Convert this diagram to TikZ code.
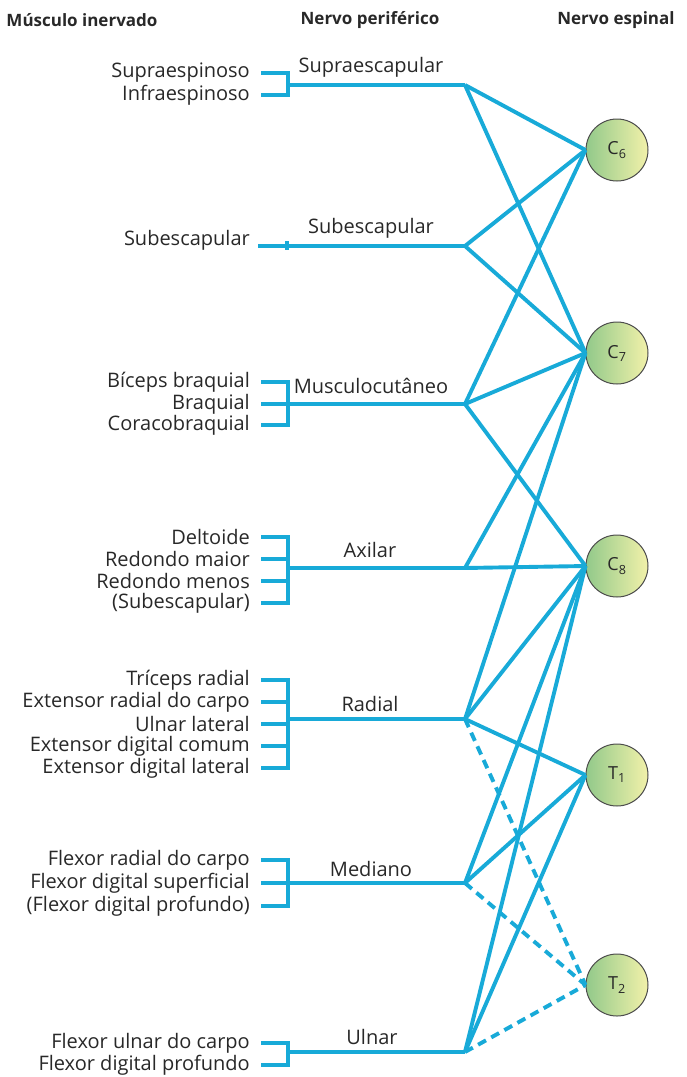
\documentclass[tikz,border=0pt]{standalone}
\usepackage{fontspec}
\setmainfont{Open Sans}
\usetikzlibrary{positioning}
\definecolor{nervecol}{RGB}{24,170,216}
\definecolor{rootleft}{RGB}{146,201,138}
\definecolor{rootright}{RGB}{242,241,170}
\definecolor{inkcol}{RGB}{40,40,40}

\begin{document}
\begin{tikzpicture}[x=1pt,y=-1pt,
    nerve/.style={draw=nervecol,line width=3.9pt},
    weak/.style={nerve,dash pattern=on 9pt off 6pt},
    brace/.style={nerve,line cap=rect},
    root/.style={circle,draw=black!70,line width=1pt,minimum size=62pt,inner sep=0pt,
      left color=rootleft,right color=rootright,text=inkcol,font=\fontsize{18}{20}\selectfont},
    musc/.style={anchor=east,inner sep=0pt,text=inkcol,font=\fontsize{20}{22}\selectfont},
    nname/.style={inner sep=0pt,text=inkcol,font=\fontsize{20}{22}\selectfont},
    head/.style={inner sep=0pt,text=inkcol,font=\fontsize{17}{20}\selectfont\bfseries}]
  \useasboundingbox (0,0) rectangle (686,1077);

  % column heads
  \node[head] (h1) at (82,20)  {Músculo inervado};
  \node[head] (h2) at (370,20) {Nervo periférico};
  \node[head] (h3) at (616,20) {Nervo espinal};

  % spinal roots
  \node[root] (c6) at (617,150) {C\textsubscript{6}};
  \node[root] (c7) at (617,353) {C\textsubscript{7}};
  \node[root] (c8) at (617,566) {C\textsubscript{8}};
  \node[root] (t1) at (617,775) {T\textsubscript{1}};
  \node[root] (t2) at (617,985) {T\textsubscript{2}};

  % peripheral nerve junctions and brace stems
  \coordinate (sup) at (465,85);   \coordinate (bsup) at (288,85);
  \coordinate (sub) at (465,246);  \coordinate (bsub) at (258,246);
  \coordinate (mus) at (465,404);  \coordinate (bmus) at (288,404);
  \coordinate (axi) at (465,568);  \coordinate (baxi) at (288,568);
  \coordinate (rad) at (465,719);  \coordinate (brad) at (288,719);
  \coordinate (med) at (465,883);  \coordinate (bmed) at (288,883);
  \coordinate (uln) at (465,1052); \coordinate (buln) at (288,1052);

  \node[nname] (nsup) at (371,67)   {Supraescapular};
  \node[nname] (nsub) at (371,228)  {Subescapular};
  \node[nname] (nmus) at (371,386)  {Musculocutâneo};
  \node[nname] (naxi) at (370,550)  {Axilar};
  \node[nname] (nrad) at (370,704)  {Radial};
  \node[nname] (nmed) at (371,869)  {Mediano};
  \node[nname] (nuln) at (372,1037) {Ulnar};

  % muscles
  \node[musc] (m1)  at (250,73)   {Supraespinoso};
  \node[musc] (m2)  at (250,95)   {Infraespinoso};
  \node[musc] (m3)  at (250,240)  {Subescapular};
  \node[musc] (m4)  at (250,382)  {Bíceps braquial};
  \node[musc] (m5)  at (250,404)  {Braquial};
  \node[musc] (m6)  at (250,425)  {Coracobraquial};
  \node[musc] (m7)  at (250,537)  {Deltoide};
  \node[musc] (m8)  at (250,559)  {Redondo maior};
  \node[musc] (m9)  at (250,581)  {Redondo menos};
  \node[musc] (m10) at (250,603)  {(Subescapular)};
  \node[musc] (m11) at (250,680)  {Tríceps radial};
  \node[musc] (m12) at (250,702)  {Extensor radial do carpo};
  \node[musc] (m13) at (250,724)  {Ulnar lateral};
  \node[musc] (m14) at (250,746)  {Extensor digital comum};
  \node[musc] (m15) at (250,768)  {Extensor digital lateral};
  \node[musc] (m16) at (250,860)  {Flexor radial do carpo};
  \node[musc] (m17) at (250,883)  {Flexor digital superficial};
  \node[musc] (m18) at (250,906)  {(Flexor digital profundo)};
  \node[musc] (m19) at (250,1043) {Flexor ulnar do carpo};
  \node[musc] (m20) at (250,1065) {Flexor digital profundo};

  % braces
  \foreach \a/\b/\s in {m1/m2/bsup,m4/m6/bmus,m7/m10/baxi,m11/m15/brad,m16/m18/bmed,m19/m20/buln}
    \draw[brace] ([xshift=13pt]\a.east) -- (\a.east -| \s) -- (\b.east -| \s) -- ([xshift=13pt]\b.east);
  \foreach \m/\s in {m5/bmus,m8/baxi,m9/baxi,m12/brad,m13/brad,m14/brad,m17/bmed}
    \draw[brace] ([xshift=13pt]\m.east) -- (\m.east -| \s);
  \draw[nerve] ([xshift=29pt]bsub) ++(0,-5) -- ++(0,9);

  % nerve trunks
  \path[nerve]
    (bsup) edge (sup)
    (bsub) edge (sub)
    (bmus) edge (mus)
    (baxi) edge (axi)
    (brad) edge (rad)
    (bmed) edge (med)
    (buln) edge (uln);

  % roots to nerves
  \path[nerve]
    (sup) edge (c6.west) edge (c7.west)
    (sub) edge (c6.west) edge (c7.west)
    (mus) edge (c6.west) edge (c7.west) edge (c8.west)
    (axi) edge (c7.west) edge (c8.west)
    (rad) edge (c7.west) edge (c8.west) edge (t1.west)
    (med) edge (c8.west) edge (t1.west)
    (uln) edge (c8.west) edge (t1.west);
  \path[weak]
    (rad) edge (t2.west)
    (med) edge (t2.west)
    (uln) edge (t2.west);
\end{tikzpicture}
\end{document}
